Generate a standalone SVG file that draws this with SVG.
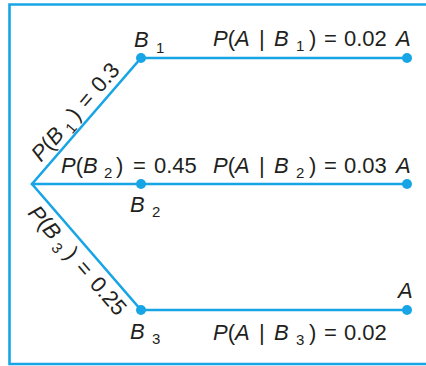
<svg xmlns="http://www.w3.org/2000/svg" width="426" height="366" viewBox="0 0 426 366">
<style>
.ln{stroke:#17a5e6;stroke-width:2.6;fill:none;stroke-linecap:round}
.dot{fill:#17a5e6}
text{font-family:"Liberation Sans",Arial,sans-serif;font-size:22px;fill:#231f20}
.i{font-style:italic}
.s{font-size:15px}
</style>
<rect x="0" y="0" width="426" height="366" fill="#ffffff"/>
<g id="frame"><path class="ln" d="M 430 4.5 H 9.5 V 364 H 430" stroke-linecap="butt"/></g>
<g id="connectors">
<path class="ln" d="M 32 184 L 141 58 L 407 58"/>
<path class="ln" d="M 32 184 L 407 184"/>
<path class="ln" d="M 32 184 L 141 310 L 407 310"/>
</g>
<g id="B1"><circle class="dot" cx="141" cy="58" r="5"/>
<text x="134" y="47"><tspan class="i">B</tspan><tspan class="s" x="156" y="53">1</tspan></text></g>
<g id="B2"><circle class="dot" cx="141" cy="184" r="5"/>
<text x="130" y="212"><tspan class="i">B</tspan><tspan class="s" x="152" y="217">2</tspan></text></g>
<g id="B3"><circle class="dot" cx="141" cy="310" r="5"/>
<text x="130" y="339"><tspan class="i">B</tspan><tspan class="s" x="152" y="344">3</tspan></text></g>
<g id="A1"><circle class="dot" cx="407" cy="58" r="5"/>
<text y="46"><tspan x="213" class="i">P</tspan><tspan>(</tspan><tspan class="i">A</tspan><tspan x="259">|</tspan><tspan x="274" class="i">B</tspan><tspan class="s" x="296" y="51">1</tspan><tspan x="309" y="46">)</tspan><tspan x="324">=</tspan><tspan x="344">0.02</tspan><tspan x="396" class="i">A</tspan></text></g>
<g id="A2"><circle class="dot" cx="407" cy="184" r="5"/>
<text y="173"><tspan x="213" class="i">P</tspan><tspan>(</tspan><tspan class="i">A</tspan><tspan x="259">|</tspan><tspan x="274" class="i">B</tspan><tspan class="s" x="296" y="178">2</tspan><tspan x="309" y="173">)</tspan><tspan x="324">=</tspan><tspan x="344">0.03</tspan><tspan x="396" class="i">A</tspan></text></g>
<g id="A3"><circle class="dot" cx="407" cy="310" r="5"/>
<text x="398" y="298" class="i">A</text>
<text y="340"><tspan x="213" class="i">P</tspan><tspan>(</tspan><tspan class="i">A</tspan><tspan x="259">|</tspan><tspan x="274" class="i">B</tspan><tspan class="s" x="296" y="345">3</tspan><tspan x="309" y="340">)</tspan><tspan x="324">=</tspan><tspan x="344">0.02</tspan></text></g>
<g id="labels">
<text y="173"><tspan x="61" class="i">P</tspan><tspan>(</tspan><tspan class="i">B</tspan><tspan class="s" x="104" y="178">2</tspan><tspan x="116" y="173">)</tspan><tspan x="133">=</tspan><tspan x="154">0.45</tspan></text>
<g transform="translate(32 184) rotate(-49.1)">
<text x="22" y="-7"><tspan class="i">P</tspan><tspan>(</tspan><tspan class="i">B</tspan><tspan class="s" dx="5" dy="5">1</tspan><tspan dx="5" dy="-5">)</tspan><tspan dx="8">=</tspan><tspan dx="8">0.3</tspan></text>
</g>
<g transform="translate(32 184) rotate(49.1)">
<text x="19" y="23"><tspan class="i">P</tspan><tspan>(</tspan><tspan class="i">B</tspan><tspan class="s" dx="5" dy="5">3</tspan><tspan dx="6" dy="-5">)</tspan><tspan dx="9">=</tspan><tspan dx="9">0.25</tspan></text>
</g>
</g>
</svg>
